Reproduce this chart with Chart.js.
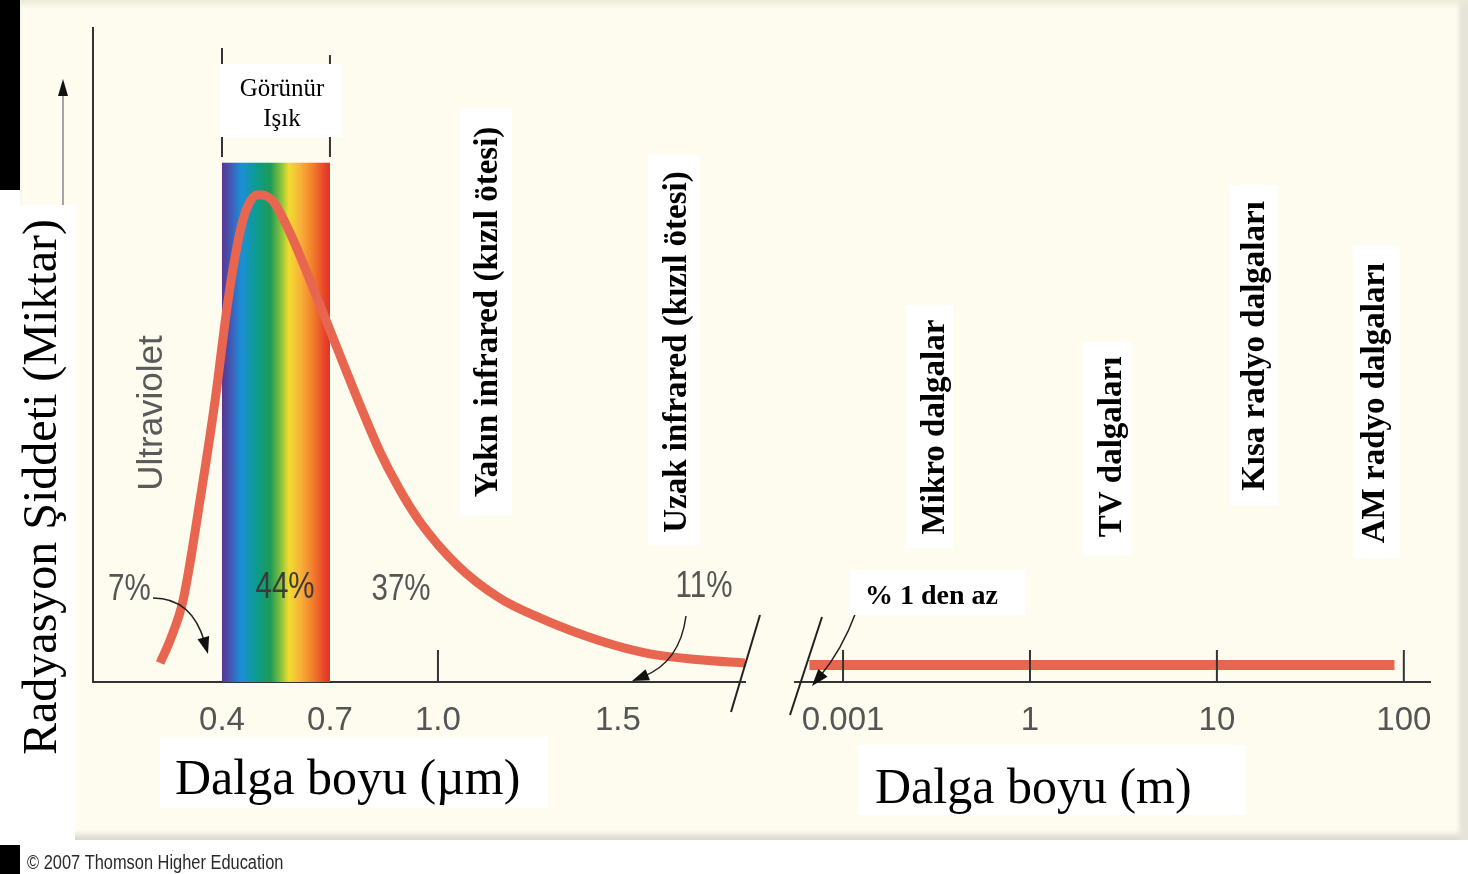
<!doctype html>
<html>

<head>
	<title>Radyasyon Şiddeti</title>
	<script src="https://cdn.jsdelivr.net/npm/chart.js@4.4.0/dist/chart.umd.min.js"></script>
	<style>
		body { margin: 0; background: #fff; }
		#page { position: relative; width: 1468px; height: 874px; overflow: hidden; background: #fff; }
		#frame {
			position: absolute; left: 20px; top: 0; width: 1448px; height: 840px; background: #fdfcef;
			box-shadow: inset 0 10px 6px -6px #ebe9d6, inset -13px 0 4px -4px #e6e4d8, inset 0 -8px 6px -3px #d9d7cc;
		}
		.blk { position: absolute; background: #000; }
		canvas { position: absolute; left: 0; top: 0; }
	</style>
</head>

<body>
	<div id="page">
		<div id="frame"></div>
		<div class="blk" style="left:0;top:0;width:20px;height:190px"></div>
		<div class="blk" style="left:0;top:845px;width:20px;height:29px"></div>
		<div style="position:absolute;left:0;top:205px;width:75px;height:635px;background:#fff"></div>
		<canvas id="left" width="1468" height="874"></canvas>
		<canvas id="right" width="1468" height="874"></canvas>
	</div>
	<script>
		// wavelength in µm and relative intensity (left panel)
		var nearWave = [0.228, 0.256, 0.292, 0.339, 0.381, 0.417, 0.450, 0.472, 0.500, 0.539, 0.589, 0.644, 0.700,
			0.742, 0.783, 0.839, 0.894, 0.950, 1.053, 1.172, 1.283, 1.450, 1.589, 1.728, 1.853];
		var nearValue = [2.9, 6.4, 12.5, 27.8, 43.1, 58.4, 68.8, 72.8, 74.5, 73.7, 68.7, 61.5, 53.8,
			48.0, 42.4, 35.2, 29.4, 24.5, 17.9, 12.8, 9.8, 6.3, 4.3, 3.4, 2.9];
		var nearTicks = [0.4, 0.7, 1.0, 1.5];

		// wavelength in m (right panel, one step per tick)
		var farTickLabels = ['0.001', '1', '10', '100'];
		var farPos = [-0.18, 0, 1, 2, 2.95];
		var farValue = [2.6, 2.6, 2.6, 2.6, 2.6];

		var percents = ['7%', '44%', '37%', '11%'];

		var LINE = '#e8654f';
		var SANS = "'Liberation Sans', Arial, sans-serif";
		var SERIF = "'Liberation Serif', 'Times New Roman', serif";

		function vlabel(ctx, text, cx, cy, box) {
			ctx.fillStyle = '#fff';
			ctx.fillRect(box[0], box[1], box[2] - box[0], box[3] - box[1]);
			ctx.save();
			ctx.translate(cx, cy);
			ctx.rotate(-Math.PI / 2);
			ctx.fillStyle = '#000';
			ctx.font = 'bold 33px ' + SERIF;
			ctx.textAlign = 'center';
			ctx.textBaseline = 'middle';
			ctx.fillText(text, 0, 0);
			ctx.restore();
		}

		// narrow grey text like the original figure lettering
		function narrow(ctx, text, x, y, size, color, align) {
			ctx.save();
			ctx.translate(x, y);
			ctx.scale(0.82, 1);
			ctx.font = size + 'px ' + SANS;
			ctx.fillStyle = color;
			ctx.textAlign = align;
			ctx.textBaseline = 'middle';
			ctx.fillText(text, 0, 0);
			ctx.restore();
		}

		function arrow(ctx, x0, y0, cx, cy, x1, y1) {
			ctx.save();
			ctx.strokeStyle = '#222';
			ctx.fillStyle = '#111';
			ctx.lineWidth = 1.5;
			var a = Math.atan2(y1 - cy, x1 - cx);
			var bx = x1 - 12 * Math.cos(a), by = y1 - 12 * Math.sin(a);
			ctx.beginPath();
			ctx.moveTo(x0, y0);
			ctx.quadraticCurveTo(cx, cy, bx, by);
			ctx.stroke();
			ctx.beginPath();
			ctx.moveTo(x1, y1);
			ctx.lineTo(x1 - 17 * Math.cos(a) + 6 * Math.sin(a), y1 - 17 * Math.sin(a) - 6 * Math.cos(a));
			ctx.lineTo(x1 - 17 * Math.cos(a) - 6 * Math.sin(a), y1 - 17 * Math.sin(a) + 6 * Math.cos(a));
			ctx.closePath();
			ctx.fill();
			ctx.restore();
		}

		function line(ctx, x0, y0, x1, y1, w, c) {
			ctx.save();
			ctx.strokeStyle = c || '#222';
			ctx.lineWidth = w || 2;
			ctx.beginPath();
			ctx.moveTo(x0, y0);
			ctx.lineTo(x1, y1);
			ctx.stroke();
			ctx.restore();
		}

		var leftDecor = {
			id: 'leftDecor',
			beforeDatasetsDraw: function(chart) {
				var ctx = chart.ctx, xs = chart.scales.x, ys = chart.scales.y;
				var x0 = xs.getPixelForValue(0.4), x1 = xs.getPixelForValue(0.7);
				var top = ys.getPixelForValue(79.4), bot = ys.getPixelForValue(0);
				var g = ctx.createLinearGradient(x0, 0, x1, 0);
				g.addColorStop(0, '#5a3590');
				g.addColorStop(0.08, '#4259b5');
				g.addColorStop(0.18, '#1b8fd8');
				g.addColorStop(0.33, '#0c9c8a');
				g.addColorStop(0.45, '#1f9a55');
				g.addColorStop(0.55, '#8cc43c');
				g.addColorStop(0.62, '#f2dc2e');
				g.addColorStop(0.72, '#f8b43a');
				g.addColorStop(0.85, '#f17a2a');
				g.addColorStop(0.95, '#e8442a');
				g.addColorStop(1, '#e03222');
				ctx.fillStyle = g;
				ctx.fillRect(x0, top, x1 - x0, bot - top);
			},
			afterDatasetsDraw: function(chart) {
				var ctx = chart.ctx, xs = chart.scales.x, ys = chart.scales.y;
				var x04 = xs.getPixelForValue(0.4), x07 = xs.getPixelForValue(0.7);
				var base = ys.getPixelForValue(0);

				// visible light bracket
				line(ctx, x04, 48, x04, 157, 2, '#333');
				line(ctx, x07, 55, x07, 157, 2, '#333');
				ctx.fillStyle = '#fff';
				ctx.fillRect(x04 - 2, 64, 122, 73);
				ctx.fillStyle = '#000';
				ctx.font = '25px ' + SERIF;
				ctx.textAlign = 'center';
				ctx.textBaseline = 'alphabetic';
				ctx.fillText('Görünür', 282, 96);
				ctx.fillText('Işık', 282, 126);

				// tick mark at 1.0
				var x10 = xs.getPixelForValue(1.0);
				line(ctx, x10, base - 32, x10, base, 2, '#333');

				// axis break
				line(ctx, 760, 615, 731, 712, 2, '#222');

				// y arrow
				line(ctx, 63, 205, 63, 94, 1.5, '#888');
				ctx.fillStyle = '#111';
				ctx.beginPath();
				ctx.moveTo(63, 79);
				ctx.lineTo(58, 96);
				ctx.lineTo(68, 96);
				ctx.closePath();
				ctx.fill();

				// y title
				ctx.save();
				ctx.translate(43, 487);
				ctx.rotate(-Math.PI / 2);
				ctx.font = '48px ' + SERIF;
				ctx.fillStyle = '#000';
				ctx.textAlign = 'center';
				ctx.textBaseline = 'middle';
				ctx.fillText('Radyasyon Şiddeti (Miktar)', 0, 0);
				ctx.restore();

				// Ultraviolet
				ctx.save();
				ctx.translate(152, 413);
				ctx.rotate(-Math.PI / 2);
				ctx.font = '35px ' + SANS;
				ctx.fillStyle = '#5a5a5a';
				ctx.textAlign = 'center';
				ctx.textBaseline = 'middle';
				ctx.fillText('Ultraviolet', 0, 0);
				ctx.restore();

				// percentages
				narrow(ctx, percents[0], 108, 590, 36, '#555', 'left');
				narrow(ctx, percents[1], 285, 588, 36, '#3a3a3a', 'center');
				narrow(ctx, percents[2], 401, 590, 36, '#555', 'center');
				narrow(ctx, percents[3], 704, 587, 36, '#555', 'center');

				arrow(ctx, 153, 598, 192, 598, 208, 654);
				arrow(ctx, 686, 616, 680, 662, 632, 681);

				vlabel(ctx, 'Yakın infrared (kızıl ötesi)', 488, 312, [460, 108, 512, 515]);
				vlabel(ctx, 'Uzak infrared (kızıl ötesi)', 677, 352, [648, 155, 700, 545]);

				// x title
				ctx.fillStyle = '#fff';
				ctx.fillRect(160, 737, 388, 71);
				ctx.fillStyle = '#000';
				ctx.font = '50px ' + SERIF;
				ctx.textAlign = 'left';
				ctx.textBaseline = 'alphabetic';
				ctx.fillText('Dalga boyu (µm)', 175, 794);

				// credit
				narrow(ctx, '© 2007 Thomson Higher Education', 27, 863, 20, '#2a2a2a', 'left');
			}
		};

		var rightDecor = {
			id: 'rightDecor',
			afterDatasetsDraw: function(chart) {
				var ctx = chart.ctx, xs = chart.scales.x, ys = chart.scales.y;
				var base = ys.getPixelForValue(0);
				for (var i = 0; i < farTickLabels.length; i++) {
					var x = xs.getPixelForValue(i);
					line(ctx, x, base - 32, x, base, 2, '#333');
				}
				line(ctx, 822, 617, 790, 715, 2, '#222');
				arrow(ctx, 856, 612, 842, 650, 812, 686);

				ctx.fillStyle = '#fff';
				ctx.fillRect(850, 570, 175, 45);
				ctx.fillStyle = '#000';
				ctx.font = 'bold 28px ' + SERIF;
				ctx.textAlign = 'left';
				ctx.textBaseline = 'alphabetic';
				ctx.fillText('% 1 den az', 865, 604);

				vlabel(ctx, 'Mikro dalgalar', 935, 427, [906, 305, 953, 548]);
				vlabel(ctx, 'TV dalgaları', 1112, 447, [1083, 342, 1131, 555]);
				vlabel(ctx, 'Kısa radyo dalgaları', 1255, 346, [1230, 185, 1278, 505]);
				vlabel(ctx, 'AM radyo dalgaları', 1375, 403, [1353, 245, 1400, 558]);

				ctx.fillStyle = '#fff';
				ctx.fillRect(858, 745, 388, 70);
				ctx.fillStyle = '#000';
				ctx.font = '50px ' + SERIF;
				ctx.textAlign = 'left';
				ctx.fillText('Dalga boyu (m)', 875, 803);
			}
		};

		function xAxis(min, max, tickValues, label) {
			return {
				type: 'linear',
				min: min,
				max: max,
				afterBuildTicks: function(scale) {
					scale.ticks = tickValues.map(function(v) { return { value: v }; });
				},
				afterFit: function(scale) { scale.height = 60; },
				grid: { display: false, drawTicks: false },
				border: { display: true, color: '#333', width: 2 },
				ticks: {
					autoSkip: false,
					maxRotation: 0,
					padding: 19,
					color: '#555',
					font: { family: SANS, size: 33 },
					callback: label
				}
			};
		}

		var leftChart = new Chart('left', {
			type: 'line',
			data: {
				datasets: [{
					data: nearWave.map(function(w, i) { return { x: w, y: nearValue[i] }; }),
					borderColor: LINE,
					borderWidth: 9,
					pointRadius: 0,
					cubicInterpolationMode: 'monotone',
					fill: false
				}]
			},
			options: {
				responsive: false,
				animation: false,
				layout: { padding: { left: 93, top: 28, right: 723, bottom: 132 } },
				plugins: { legend: { display: false }, tooltip: { enabled: false } },
				scales: {
					x: xAxis(0.0417, 1.853, nearTicks, function(v) { return v.toFixed(1); }),
					y: {
						min: 0,
						max: 100,
						afterFit: function(scale) { scale.width = 0; },
						grid: { display: false, drawTicks: false },
						border: { display: true, color: '#333', width: 2 },
						ticks: { display: false }
					}
				}
			},
			plugins: [leftDecor]
		});

		var rightChart = new Chart('right', {
			type: 'line',
			data: {
				datasets: [{
					data: farPos.map(function(p, i) { return { x: p, y: farValue[i] }; }),
					borderColor: LINE,
					borderWidth: 10,
					pointRadius: 0,
					tension: 0,
					fill: false
				}]
			},
			options: {
				responsive: false,
				animation: false,
				layout: { padding: { left: 795, top: 28, right: 38, bottom: 132 } },
				plugins: { legend: { display: false }, tooltip: { enabled: false } },
				scales: {
					x: xAxis(-0.257, 3.14, [0, 1, 2, 3], function(v) { return farTickLabels[Math.round(v)]; }),
					y: {
						min: 0,
						max: 100,
						display: false
					}
				}
			},
			plugins: [rightDecor]
		});
	</script>
</body>

</html>
